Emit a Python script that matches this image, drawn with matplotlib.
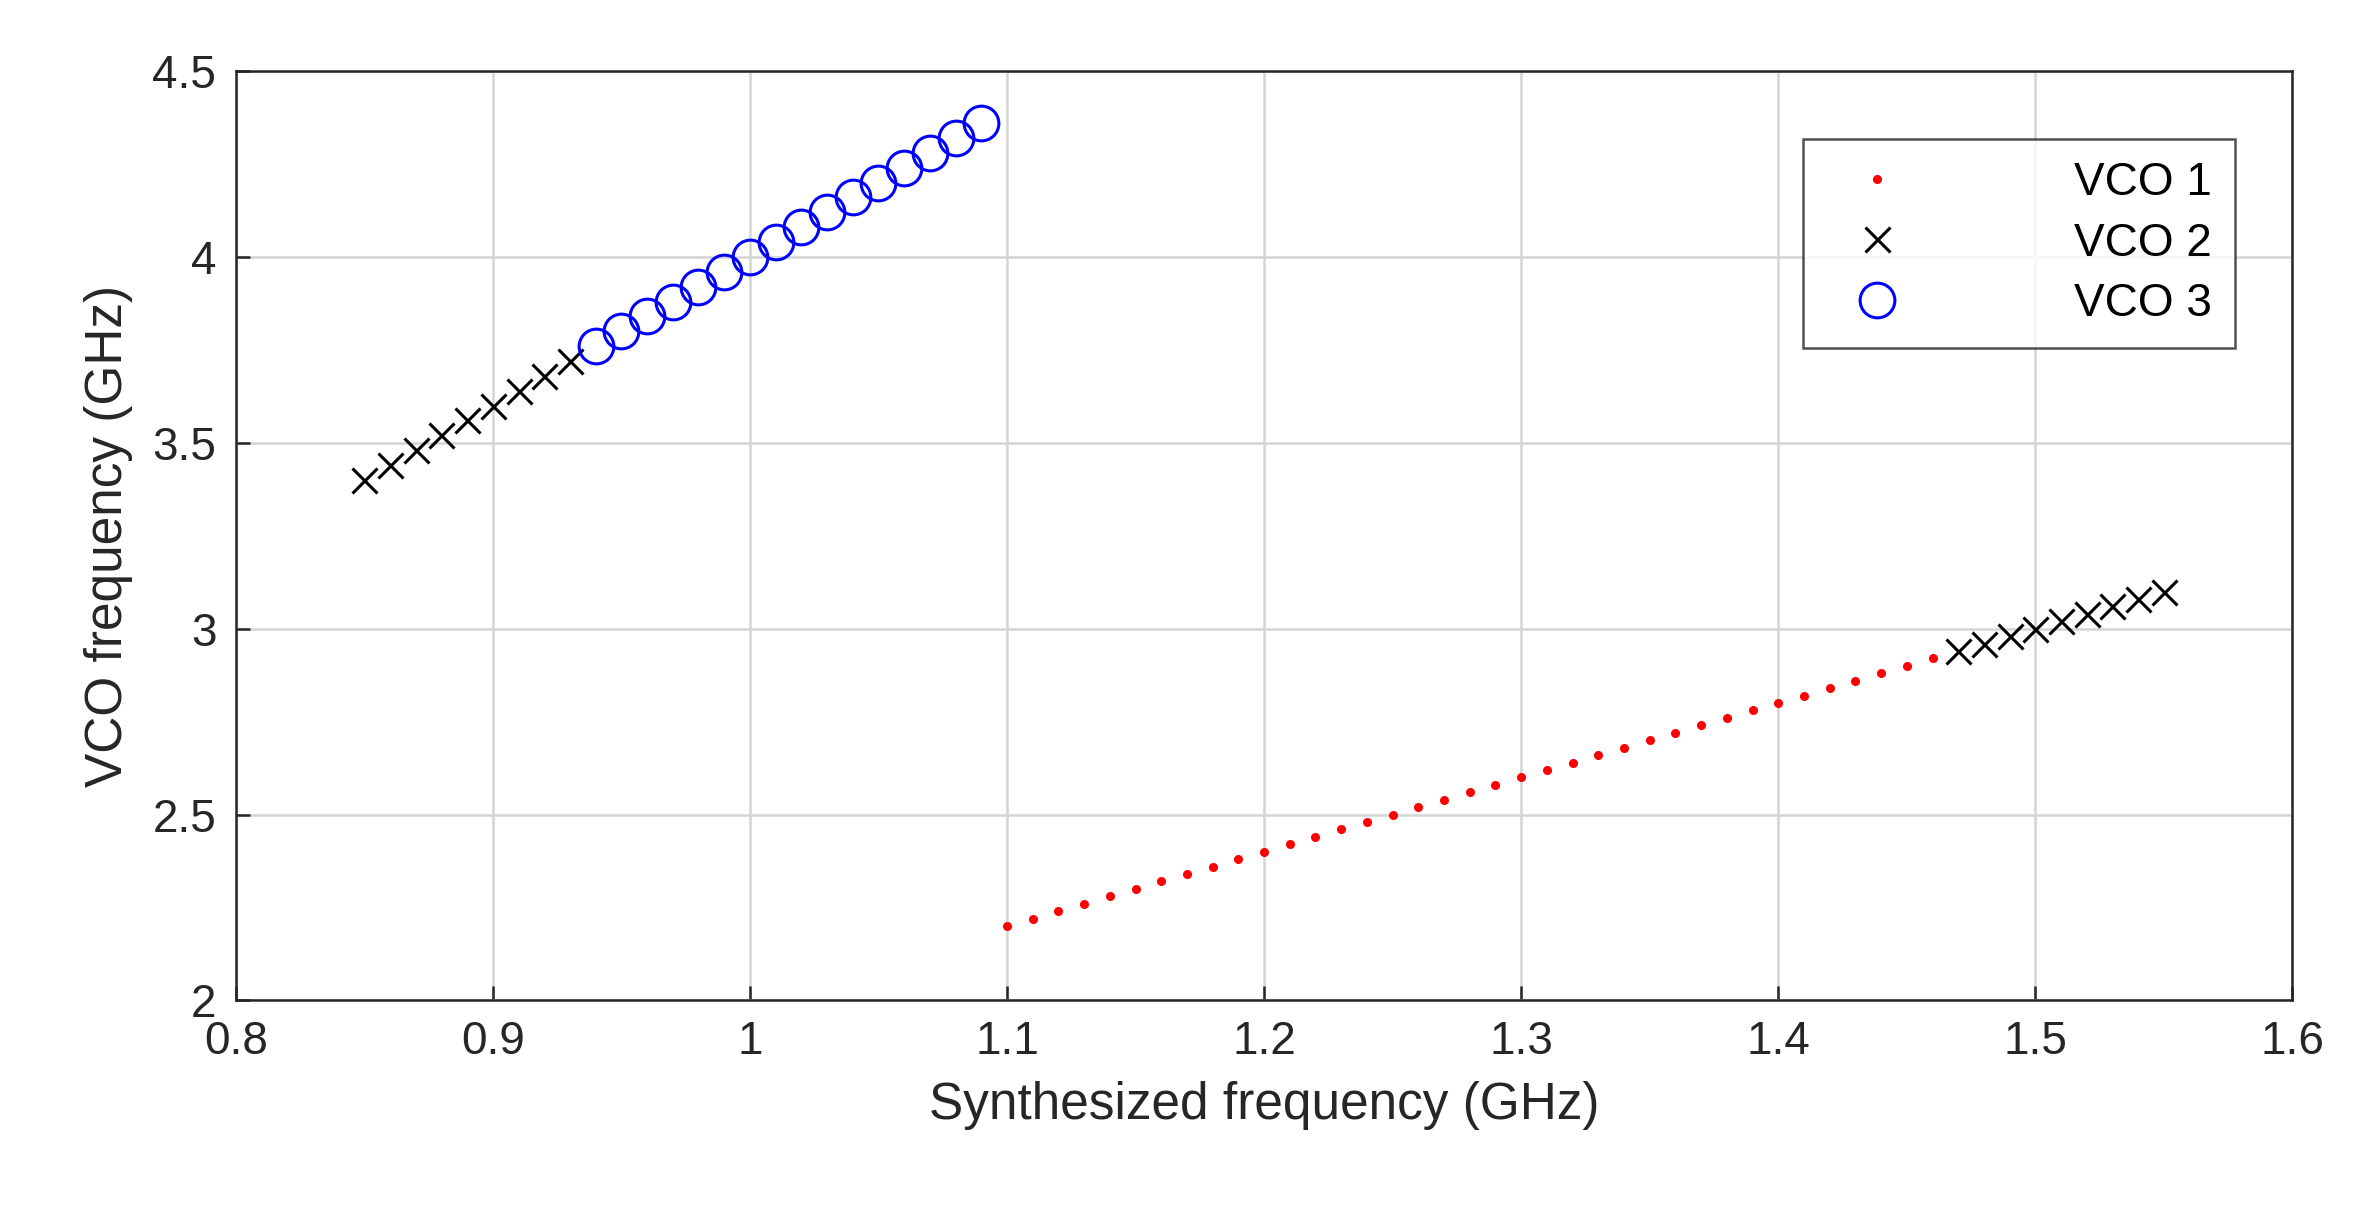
import matplotlib
matplotlib.use("Agg")
import matplotlib.pyplot as plt

vco1_x = [1.10,1.11,1.12,1.13,1.14,1.15,1.16,1.17,1.18,1.19,1.20,1.21,1.22,1.23,1.24,1.25,1.26,1.27,1.28,1.29,
          1.30,1.31,1.32,1.33,1.34,1.35,1.36,1.37,1.38,1.39,1.40,1.41,1.42,1.43,1.44,1.45,1.46]
vco1_y = [2.20,2.22,2.24,2.26,2.28,2.30,2.32,2.34,2.36,2.38,2.40,2.42,2.44,2.46,2.48,2.50,2.52,2.54,2.56,2.58,
          2.60,2.62,2.64,2.66,2.68,2.70,2.72,2.74,2.76,2.78,2.80,2.82,2.84,2.86,2.88,2.90,2.92]
vco2_x = [0.85,0.86,0.87,0.88,0.89,0.90,0.91,0.92,0.93, 1.47,1.48,1.49,1.50,1.51,1.52,1.53,1.54,1.55]
vco2_y = [3.40,3.44,3.48,3.52,3.56,3.60,3.64,3.68,3.72, 2.94,2.96,2.98,3.00,3.02,3.04,3.06,3.08,3.10]
vco3_x = [0.94,0.95,0.96,0.97,0.98,0.99,1.00,1.01,1.02,1.03,1.04,1.05,1.06,1.07,1.08,1.09]
vco3_y = [3.76,3.80,3.84,3.88,3.92,3.96,4.00,4.04,4.08,4.12,4.16,4.20,4.24,4.28,4.32,4.36]

plt.rcParams['font.family'] = ['Liberation Sans', 'DejaVu Sans']
fig = plt.figure(figsize=(23.54, 12.09), dpi=100)
ax = fig.add_axes([157/1568, 1-662/800, (1527-157)/1568, (662-47)/800])
ax.plot(vco1_x, vco1_y, '.', color='red', markersize=11, label='VCO 1', linestyle='none')
ax.plot(vco2_x, vco2_y, 'x', color='black', markersize=18, mew=2.2, label='VCO 2', linestyle='none')
ax.plot(vco3_x, vco3_y, 'o', mfc='none', mec='blue', markersize=25, mew=2.2, label='VCO 3', linestyle='none')
ax.set_xlim(0.8, 1.6)
ax.set_ylim(2, 4.5)
ax.set_xticks([0.8,0.9,1.0,1.1,1.2,1.3,1.4,1.5,1.6])
ax.set_xticklabels(['0.8','0.9','1','1.1','1.2','1.3','1.4','1.5','1.6'])
ax.set_yticks([2,2.5,3,3.5,4,4.5])
ax.set_yticklabels(['2','2.5','3','3.5','4','4.5'])
ax.grid(True, color='#d4d4d4', linewidth=1.8)
ax.tick_params(labelsize=33, colors='#262626', direction='in', length=10, width=1.8, pad=14)
for s in ax.spines.values():
    s.set_color('#262626'); s.set_linewidth(1.8)
ax.set_xlabel('Synthesized frequency (GHz)', fontsize=37, color='#262626', labelpad=12)
ax.set_ylabel('VCO frequency (GHz)', fontsize=37, color='#262626', labelpad=14)
leg = ax.legend(loc='upper right', fontsize=33, fancybox=False, edgecolor='#262626',
                bbox_to_anchor=(0.983, 0.952), handletextpad=3.2, borderpad=0.5, labelspacing=0.35,
                handlelength=2.2)
leg.get_frame().set_linewidth(1.8)
fig.savefig('out.png', dpi=100)
